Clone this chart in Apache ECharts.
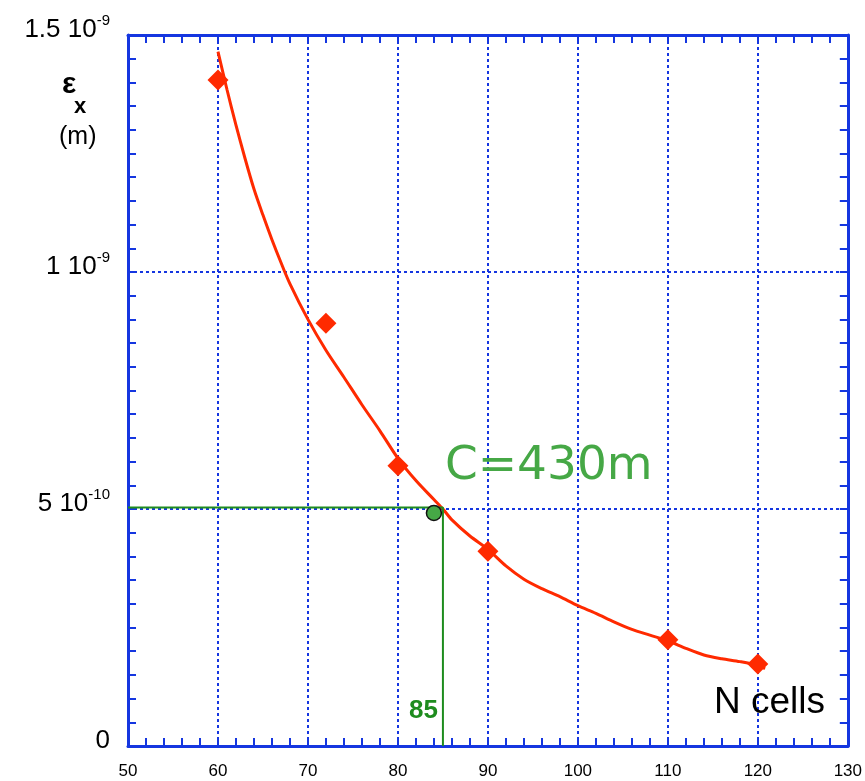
<!DOCTYPE html>
<html>
<head>
<meta charset="utf-8">
<script src="https://cdn.jsdelivr.net/npm/echarts@6/dist/echarts.min.js"></script>
<style>html,body{margin:0;padding:0;background:#fff}#c{width:865px;height:781px}</style>
</head>
<body>
<div id="c"></div>
<script>
// Lattice cells vs horizontal emittance (m)
const cellCounts = [60, 72, 80, 90, 110, 120];
const emittance = [1.405e-9, 0.892e-9, 0.591e-9, 0.411e-9, 0.224e-9, 0.173e-9];
const fitX = [60, 61, 62, 63, 64, 65, 66, 67, 68, 70, 72, 74, 76, 78, 80, 82, 84, 85, 86, 88, 90, 92, 94, 96, 98, 100, 102, 104, 106, 108, 110, 112, 114, 116, 118, 120, 120.8];
const fitY = [1.465, 1.385, 1.31, 1.24, 1.175, 1.12, 1.068, 1.02, 0.975, 0.90, 0.835, 0.778, 0.72, 0.665, 0.607, 0.56, 0.52, 0.50, 0.477, 0.443, 0.415, 0.38, 0.352, 0.332, 0.315, 0.296, 0.28, 0.262, 0.246, 0.234, 0.222, 0.206, 0.192, 0.184, 0.178, 0.17, 0.163].map(v => v * 1e-9);
const chosenPoint = [84, 0.4916e-9];
const targetCells = 85;
const targetEmit = 0.503e-9;
const xTicks = [50, 60, 70, 80, 90, 100, 110, 120, 130];
const yTickLabels = {0: ['0', ''], 5: ['5 10', '-10'], 10: ['1 10', '-9'], 15: ['1.5 10', '-9']};

const BLUE = '#1536e0';
const RED = '#ff2a00';
const GREEN = '#1e8c1e';
const FONT = 'Liberation Sans, Helvetica, Arial, sans-serif';

const chart = echarts.init(document.getElementById('c'), null, {renderer: 'canvas'});

const axisCommon = {
  axisLine: {show: true, onZero: false, lineStyle: {color: BLUE, width: 3}},
  axisTick: {show: true, inside: true, length: 8, lineStyle: {color: BLUE, width: 2}},
  minorTick: {show: true, length: 8, lineStyle: {color: BLUE, width: 2}},
  minorSplitLine: {show: false}
};

chart.setOption({
  animation: false,
  backgroundColor: '#fff',
  grid: {left: 128, right: 17, top: 35, bottom: 35, containLabel: false},
  xAxis: [
    Object.assign({}, axisCommon, {
      type: 'value', position: 'bottom', min: 50, max: 130, interval: 10,
      minorTick: Object.assign({}, axisCommon.minorTick, {splitNumber: 5}),
      splitLine: {show: true, lineStyle: {color: BLUE, width: 2, type: [3, 3]}},
      axisLabel: {show: true, margin: 17, fontSize: 17, color: '#000', fontFamily: FONT,
        formatter: v => xTicks.indexOf(v) >= 0 ? String(v) : ''}
    }),
    Object.assign({}, axisCommon, {
      type: 'value', position: 'top', min: 50, max: 130, interval: 10,
      minorTick: Object.assign({}, axisCommon.minorTick, {splitNumber: 5}),
      splitLine: {show: false}, axisLabel: {show: false}
    })
  ],
  yAxis: [
    Object.assign({}, axisCommon, {
      type: 'value', position: 'left', min: 0, max: 1.5e-9, interval: 0.5e-9,
      minorTick: Object.assign({}, axisCommon.minorTick, {splitNumber: 10}),
      splitLine: {show: true, lineStyle: {color: BLUE, width: 2, type: [3, 3]}},
      axisLabel: {show: true, margin: 18, color: '#000', fontFamily: FONT, padding: [0, 0, 14, 0],
        formatter: v => {
          const k = Math.round(v * 1e10);
          const t = yTickLabels[k];
          if (!t) return '';
          return t[1] ? '{b|' + t[0] + '}{s|' + t[1] + '}' : '{b|' + t[0] + '}';
        },
        rich: {
          b: {fontSize: 26, fontFamily: FONT, color: '#000', lineHeight: 30, verticalAlign: 'bottom'},
          s: {fontSize: 15, fontFamily: FONT, color: '#000', lineHeight: 30, verticalAlign: 'top', padding: [0, 0, 16, 0]}
        }
      }
    }),
    Object.assign({}, axisCommon, {
      type: 'value', position: 'right', min: 0, max: 1.5e-9, interval: 0.5e-9,
      minorTick: Object.assign({}, axisCommon.minorTick, {splitNumber: 10}),
      splitLine: {show: false}, axisLabel: {show: false}
    })
  ],
  series: [
    {
      type: 'line', name: 'fit', data: fitX.map((x, i) => [x, fitY[i]]),
      smooth: 0.3, showSymbol: false, symbol: 'none',
      lineStyle: {color: RED, width: 3}, z: 3
    },
    {
      type: 'line', name: 'target', data: [[50, targetEmit], [targetCells, targetEmit], [targetCells, 0]],
      showSymbol: false, symbol: 'none', lineStyle: {color: GREEN, width: 2}, z: 4
    },
    {
      type: 'scatter', name: 'cells', data: cellCounts.map((x, i) => [x, emittance[i]]),
      symbol: 'diamond', symbolSize: [21, 21], itemStyle: {color: RED, opacity: 1}, z: 5
    },
    {
      type: 'scatter', name: 'chosen', data: [chosenPoint],
      symbol: 'circle', symbolSize: 15, itemStyle: {color: '#46a846', opacity: 1, borderColor: '#111', borderWidth: 1.5}, z: 6
    }
  ]
});

const p85 = chart.convertToPixel({xAxisIndex: 0, yAxisIndex: 0}, [targetCells, 0]);
const pC = chart.convertToPixel({xAxisIndex: 0, yAxisIndex: 0}, [84, 0.56e-9]);
chart.setOption({
  graphic: [
    {type: 'text', left: 62, top: 70, style: {text: 'ε', fill: '#000', font: 'bold 30px ' + FONT}},
    {type: 'text', left: 74, top: 96, style: {text: 'x', fill: '#000', font: 'bold 22px ' + FONT}},
    {type: 'text', left: 59, top: 125, style: {text: '(m)', fill: '#000', font: '25px ' + FONT}},
    {type: 'text', left: 714, top: 684, style: {text: 'N cells', fill: '#000', font: '37px ' + FONT}},
    {type: 'text', x: p85[0] - 5, y: 711, style: {text: String(targetCells), fill: GREEN, font: 'bold 26px ' + FONT, align: 'right', verticalAlign: 'middle'}},
    {type: 'text', x: pC[0] + 11, y: pC[1] + 10, style: {text: 'C=430m', fill: '#46a846', font: '47px "DejaVu Sans", sans-serif', verticalAlign: 'bottom'}}
  ]
});
</script>
</body>
</html>
